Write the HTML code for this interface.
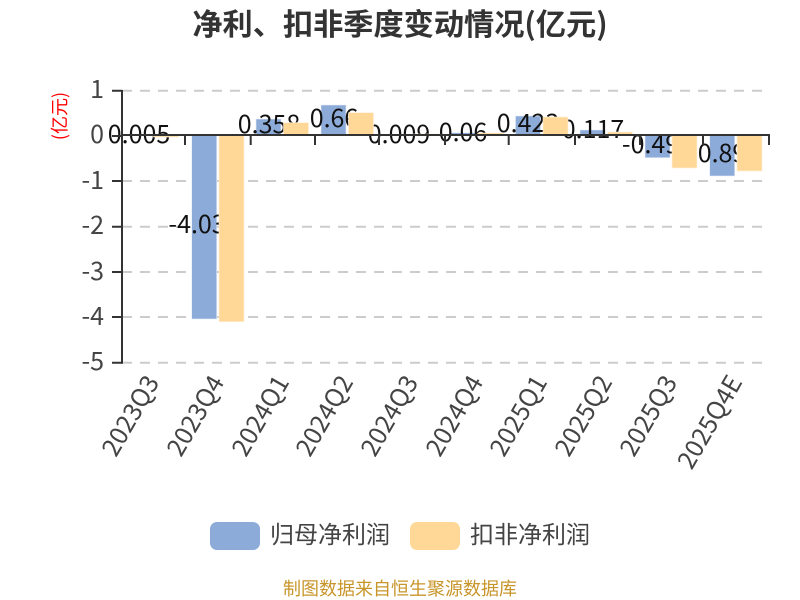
<!DOCTYPE html>
<html><head><meta charset="utf-8">
<style>html,body{margin:0;padding:0;background:#fff}svg{display:block;font-family:"Noto Sans CJK SC","Liberation Sans",sans-serif}
.b{fill:#8dabd9;stroke:#e4ebf6;stroke-width:.6}
.o{fill:#ffd898;stroke:#fff1da;stroke-width:.6}
.l{font-size:25px;fill:#111;text-anchor:middle}
.y{font-size:25px;fill:#444;text-anchor:end}
.x{font-size:25px;fill:#444;text-anchor:end}
</style></head><body>
<svg width="800" height="600" viewBox="0 0 800 600" xmlns="http://www.w3.org/2000/svg">
<text x="400" y="35" font-size="30.2" font-weight="700" fill="#333" text-anchor="middle">净利、扣非季度变动情况(亿元)</text>
<text transform="translate(66,116) rotate(-90)" font-size="18" fill="#f00" text-anchor="middle">(亿元)</text>
<g stroke="#ccc" stroke-width="2" stroke-dasharray="10 8">
<line x1="122" x2="769" y1="90.7" y2="90.7"/><line x1="122" x2="769" y1="181" y2="181"/><line x1="122" x2="769" y1="226.7" y2="226.7"/><line x1="122" x2="769" y1="272" y2="272"/><line x1="122" x2="769" y1="317" y2="317"/><line x1="122" x2="769" y1="362.7" y2="362.7"/>
</g>
<g>
<rect class="b" x="191.7" y="135" width="25" height="184"/>
<rect class="b" x="256" y="119" width="25" height="16"/>
<rect class="b" x="321" y="105" width="25" height="30"/>
<rect class="b" x="450" y="132.7" width="25" height="2.3"/>
<rect class="b" x="515.5" y="116" width="25" height="19"/>
<rect class="b" x="580" y="130" width="25" height="5"/>
<rect class="b" x="645" y="135" width="25" height="22.7"/>
<rect class="b" x="709.7" y="135" width="25" height="41"/>
</g>
<g>
<text class="l" x="139" y="143">0.005</text>
<text class="l" x="204" y="233">-4.033</text>
<text class="l" x="269" y="133">0.358</text>
<text class="l" x="334" y="127">0.66</text>
<text class="l" x="399" y="143">0.009</text>
<text class="l" x="463" y="141">0.06</text>
<text class="l" x="528" y="132">0.423</text>
<text class="l" x="593" y="138">0.117</text>
<text class="l" x="657.5" y="153">-0.499</text>
<text class="l" x="722" y="162">0.89</text>
</g>
<g>
<rect class="o" x="153.5" y="135" width="25" height="2"/>
<rect class="o" x="219" y="135" width="25" height="186.7"/>
<rect class="o" x="283.5" y="122.7" width="25" height="12.3"/>
<rect class="o" x="348.5" y="112.7" width="25" height="22.3"/>
<rect class="o" x="413" y="134" width="25" height="1"/>
<rect class="o" x="478" y="133" width="25" height="2"/>
<rect class="o" x="543" y="117" width="25" height="18"/>
<rect class="o" x="607.5" y="132" width="25" height="3"/>
<rect class="o" x="672" y="135" width="25" height="33"/>
<rect class="o" x="737" y="135" width="25" height="36"/>
</g>
<g stroke="#333" stroke-width="2" fill="none">
<line x1="122" x2="122" y1="90" y2="363.7"/>
<line x1="121" x2="770" y1="135" y2="135"/>
<path d="M112 90.7H122M112 136H122M112 181H122M112 226.7H122M112 272H122M112 317H122M112 362.7H122"/>
<path d="M185 135V145M250.7 135V145M315 135V145M379 135V145M445 135V145M508.7 135V145M575 135V145M640 135V145M703 135V145M769 135V145"/>
</g>
<g>
<text class="y" x="104" y="98">1</text>
<text class="y" x="104" y="143">0</text>
<text class="y" x="104" y="189">-1</text>
<text class="y" x="104" y="234">-2</text>
<text class="y" x="104" y="280">-3</text>
<text class="y" x="104" y="325">-4</text>
<text class="y" x="104" y="370">-5</text>
</g>
<g>
<text class="x" transform="translate(160,382) rotate(-60)">2023Q3</text>
<text class="x" transform="translate(225,382) rotate(-60)">2023Q4</text>
<text class="x" transform="translate(290,382) rotate(-60)">2024Q1</text>
<text class="x" transform="translate(354,382) rotate(-60)">2024Q2</text>
<text class="x" transform="translate(419,382) rotate(-60)">2024Q3</text>
<text class="x" transform="translate(484,382) rotate(-60)">2024Q4</text>
<text class="x" transform="translate(548,382) rotate(-60)">2025Q1</text>
<text class="x" transform="translate(613,382) rotate(-60)">2025Q2</text>
<text class="x" transform="translate(678,382) rotate(-60)">2025Q3</text>
<text class="x" transform="translate(743,382) rotate(-60)">2025Q4E</text>
</g>
<rect x="210" y="522" width="50" height="28" rx="7" fill="#8dabd9"/>
<text x="270" y="543" font-size="24" fill="#444">归母净利润</text>
<rect x="410" y="522" width="50" height="28" rx="7" fill="#ffd898"/>
<text x="470" y="543" font-size="24" fill="#444">扣非净利润</text>
<text x="400" y="595" font-size="18" fill="#c8952a" text-anchor="middle">制图数据来自恒生聚源数据库</text>
</svg>
</body></html>
